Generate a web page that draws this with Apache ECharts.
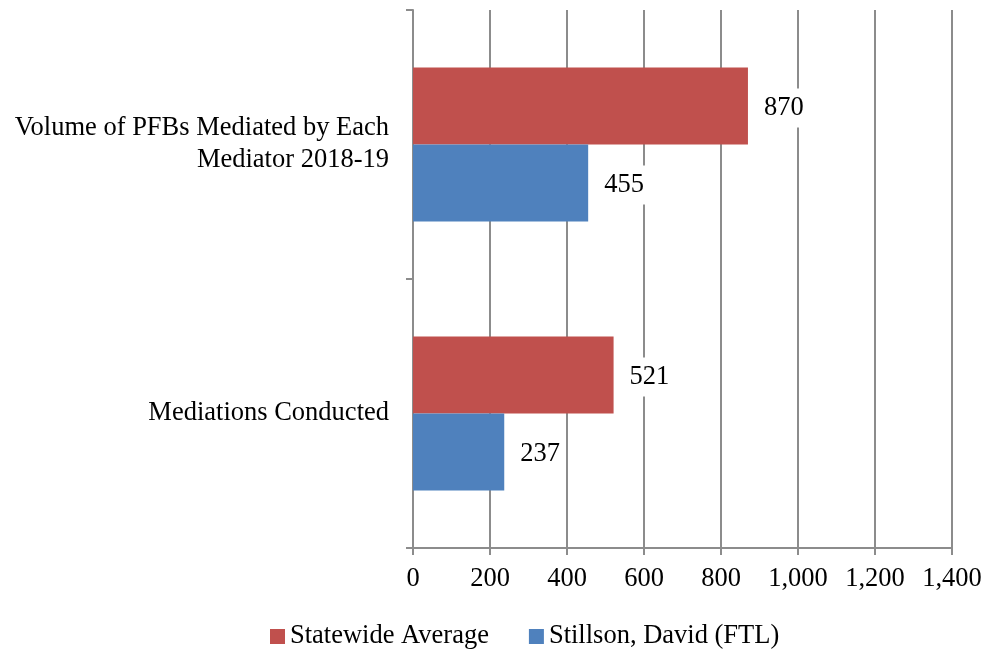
<!DOCTYPE html>
<html>
<head>
<meta charset="utf-8">
<script src="https://cdn.jsdelivr.net/npm/echarts@6/dist/echarts.min.js"></script>
<style>html,body{margin:0;padding:0;background:#fff;}#c{width:985px;height:652px;}</style>
</head>
<body>
<div id="c"></div>
<script>
const categories = ['Mediations Conducted', 'Volume of PFBs Mediated by Each\nMediator 2018-19'];
const statewideAverage = [521, 870];
const stillsonDavid = [237, 455];
const seriesNames = ['Statewide Average', 'Stillson, David (FTL)'];

const font = "'Liberation Serif', 'Times New Roman', serif";
const fs = 26.5;
const gridColor = '#8c8c8c';
const chart = echarts.init(document.getElementById('c'));
const labelStyle = {
  show: true, position: 'right', distance: 12, offset: [0, 2],
  fontFamily: font, fontSize: fs, color: '#000',
  backgroundColor: '#fff', padding: [6, 4],
  formatter: p => p.value.toLocaleString('en-US')
};
chart.setOption({
  animation: false,
  grid: { left: 413, right: 33, top: 10, bottom: 104, containLabel: false },
  legend: {
    data: seriesNames,
    left: 265, top: 618,
    itemWidth: 15, itemHeight: 15, itemGap: 40,
    icon: 'rect',
    textStyle: { fontFamily: font, fontSize: fs, color: '#000' }
  },
  xAxis: {
    type: 'value', min: 0, max: 1400, interval: 200,
    axisLine: { show: true, lineStyle: { color: gridColor, width: 2 } },
    axisTick: { show: true, length: 7, lineStyle: { color: gridColor, width: 2 } },
    splitLine: { show: true, lineStyle: { color: gridColor, width: 2 } },
    axisLabel: { margin: 18, fontFamily: font, fontSize: fs, color: '#000',
      formatter: v => v.toLocaleString('en-US') }
  },
  yAxis: {
    type: 'category', data: categories,
    axisLine: { show: true, lineStyle: { color: gridColor, width: 2 } },
    axisTick: { show: true, length: 7, alignWithLabel: false, lineStyle: { color: gridColor, width: 2 } },
    axisLabel: { margin: 24, fontFamily: font, fontSize: fs, color: '#000', align: 'right',
      lineHeight: 32, padding: [5, 0, 0, 0] }
  },
  series: [
    { name: seriesNames[0], type: 'bar', data: statewideAverage, barWidth: 77, barGap: '0%',
      itemStyle: { color: '#C0504D' }, label: labelStyle },
    { name: seriesNames[1], type: 'bar', data: stillsonDavid, barWidth: 77, barGap: '0%',
      itemStyle: { color: '#4F81BD' }, label: labelStyle }
  ]
});
</script>
</body>
</html>
